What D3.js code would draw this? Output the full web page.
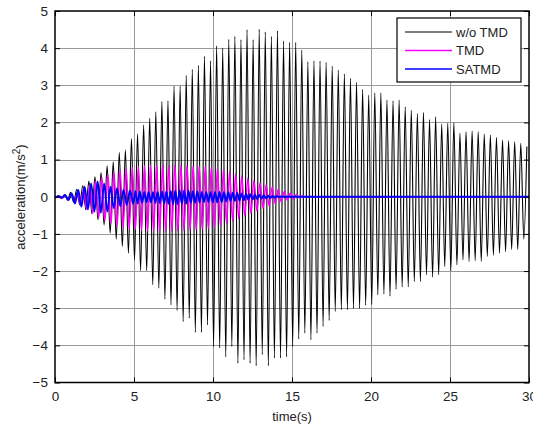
<!DOCTYPE html>
<html>
<head>
<meta charset="utf-8">
<script src="https://cdn.jsdelivr.net/npm/d3@7"></script>
<style>
  body { margin: 0; background: #fff; }
  svg text { font-family: "Liberation Sans", Arial, sans-serif; fill: #222; }
</style>
</head>
<body>
<svg id="chart" width="533" height="425"></svg>
<script>
// ---- data ----
// oscillation period (s) of the uncontrolled response
const period = 0.385;

// w/o TMD: one positive peak and one trough per cycle, cycles 0..77
const noTmdPeaks = [
    0.03, 0.06, 0.12, 0.2, 0.3, 0.42,
    0.54, 0.65, 0.83, 0.94, 1.19, 1.26, 1.57, 1.69, 1.93, 2.11,
    2.29, 2.56, 2.58, 2.98, 2.98, 3.27, 3.43, 3.54, 3.78, 3.66,
    4.06, 4.00, 4.24, 4.32, 4.23, 4.50, 4.23, 4.51, 4.44, 4.32,
    4.47, 4.19, 4.16, 4.16, 3.95, 3.63, 3.66, 3.65, 3.62, 3.52,
    3.41, 3.30, 3.19, 3.08, 2.89, 2.74, 2.80, 2.80, 2.60, 2.58,
    2.60, 2.42, 2.33, 2.24, 2.27, 2.08, 2.15, 1.96, 1.98, 1.99,
    1.71, 1.75, 1.77, 1.75, 1.69, 1.66, 1.60, 1.53, 1.51, 1.48,
    1.44, 1.35
];
const noTmdTroughs = [
    -0.02, -0.05, -0.09, -0.15,
    -0.22, -0.35, -0.46, -0.62, -0.76, -0.98, -1.14, -1.34, -1.52, -1.70,
    -1.99, -1.99, -2.37, -2.46, -2.76, -2.91, -3.06, -3.36, -3.27, -3.65,
    -3.65, -3.45, -4.03, -4.07, -4.31, -4.03, -4.48, -4.39, -4.48, -4.55,
    -4.25, -4.55, -4.34, -4.34, -4.31, -4.03, -3.83, -3.67, -3.85, -3.67,
    -3.49, -3.33, -3.09, -3.04, -3.04, -3.01, -3.01, -2.92, -2.90, -2.64,
    -2.62, -2.68, -2.49, -2.43, -2.43, -2.28, -2.28, -2.10, -2.16, -2.10,
    -1.88, -1.99, -1.83, -1.70, -1.74, -1.72, -1.74, -1.61, -1.57, -1.52,
    -1.48, -1.42, -1.42, -1.14
];

// TMD: cycles 0..41, same period
const tmdPeaks = [
    0.02, 0.04, 0.07, 0.12, 0.2, 0.3, 0.42, 0.52, 0.6, 0.66,
    0.71, 0.76, 0.8, 0.82, 0.84, 0.85, 0.85, 0.86, 0.85, 0.86,
    0.85, 0.85, 0.84, 0.83, 0.82, 0.8, 0.77, 0.73, 0.68, 0.62,
    0.56, 0.5, 0.44, 0.38, 0.32, 0.26, 0.2, 0.15, 0.1, 0.06,
    0.03, 0.01
];
const tmdTroughs = [
    -0.02, -0.04, -0.08, -0.13, -0.22, -0.33, -0.45, -0.56, -0.65, -0.72,
    -0.78, -0.83, -0.87, -0.89, -0.91, -0.92, -0.93, -0.93, -0.93, -0.93,
    -0.92, -0.92, -0.91, -0.9, -0.88, -0.86, -0.83, -0.78, -0.72, -0.66,
    -0.59, -0.52, -0.45, -0.38, -0.31, -0.25, -0.19, -0.14, -0.09, -0.06,
    -0.03, -0.01
];

// SATMD: slower build-up first, then a faster small ripple
const satmdPeriodA = 0.41;
const satmdPeaksA = [0.01, 0.04, 0.09, 0.18, 0.27, 0.36, 0.41, 0.36, 0.27, 0.23, 0.18, 0.17];
const satmdTroughsA = [-0.01, -0.02, -0.09, -0.18, -0.27, -0.34, -0.40, -0.43, -0.40, -0.31, -0.25, -0.22];
const satmdStartB = 4.95;
const satmdPeriodB = 0.28;
const satmdPeaksB = [
    0.15, 0.14, 0.13, 0.13, 0.12, 0.13, 0.14, 0.15, 0.15, 0.16,
    0.17, 0.17, 0.16, 0.15, 0.14, 0.13, 0.12, 0.12, 0.13, 0.13,
    0.12, 0.12, 0.11, 0.1, 0.09, 0.08, 0.07, 0.06, 0.05, 0.04,
    0.03, 0.02, 0.02, 0.01
];
const satmdTroughsB = [
    -0.19, -0.18, -0.16, -0.15, -0.15, -0.16, -0.17, -0.18, -0.19, -0.2,
    -0.2, -0.19, -0.18, -0.17, -0.16, -0.15, -0.14, -0.14, -0.15, -0.15,
    -0.14, -0.13, -0.12, -0.11, -0.1, -0.09, -0.08, -0.07, -0.06, -0.05,
    -0.04, -0.03, -0.02, -0.01
];

const xTicks = [0, 5, 10, 15, 20, 25, 30];
const yTicks = [-5, -4, -3, -2, -1, 0, 1, 2, 3, 4, 5];
const legendNames = ['w/o TMD', 'TMD', 'SATMD'];
const lineColors = ['#000000', '#ff00ff', '#0000ff'];

// turn per-cycle extremes into (t, a) points
function cyclePoints(peaks, troughs, per, t0, troughPhase, peakPhase) {
    const pts = [];
    peaks.forEach((p, k) => {
        pts.push([t0 + (k + troughPhase) * per, troughs[k]]);
        pts.push([t0 + (k + peakPhase) * per, p]);
    });
    return pts;
}

const noTmd = [[0, 0]].concat(cyclePoints(noTmdPeaks, noTmdTroughs, period, 0, 0.07, 0.57));
const tmdPts = [[0, 0]].concat(cyclePoints(tmdPeaks, tmdTroughs, period, 0, 0.2, 0.7));
tmdPts.push([tmdPts[tmdPts.length - 1][0] + period / 2, 0], [30, 0]);
const satA = cyclePoints(satmdPeaksA, satmdTroughsA, satmdPeriodA, 0, 0.08, 0.58);
const satB = cyclePoints(satmdPeaksB, satmdTroughsB, satmdPeriodB, satmdStartB, 0, 0.5);
const satmd = [[0, 0]].concat(satA, satB);
satmd.push([satmd[satmd.length - 1][0] + satmdPeriodB / 2, 0], [30, 0]);

// ---- layout ----
const svg = d3.select('#chart');
const mLeft = 55, mRight = 529, mTop = 11, mBottom = 382.5;

const x = d3.scaleLinear().domain([0, 30]).range([mLeft, mRight]);
const y = d3.scaleLinear().domain([-5, 5]).range([mBottom, mTop]);

svg.append('defs').append('clipPath').attr('id', 'plot-clip')
    .append('rect').attr('x', mLeft).attr('y', mTop)
    .attr('width', mRight - mLeft).attr('height', mBottom - mTop);

// grid
const grid = svg.append('g').attr('stroke', '#9a9a9a').attr('stroke-width', 1);
grid.selectAll('line.gx').data(xTicks.slice(1, -1)).join('line')
    .attr('x1', d => Math.round(x(d)) + 0.5).attr('x2', d => Math.round(x(d)) + 0.5)
    .attr('y1', mTop).attr('y2', mBottom);
grid.selectAll('line.gy').data(yTicks.slice(1, -1)).join('line')
    .attr('y1', d => Math.round(y(d)) + 0.5).attr('y2', d => Math.round(y(d)) + 0.5)
    .attr('x1', mLeft).attr('x2', mRight);

// series
const line = d3.line().x(d => x(d[0])).y(d => y(d[1])).curve(d3.curveMonotoneX);
const plot = svg.append('g').attr('clip-path', 'url(#plot-clip)');
plot.append('path').datum(noTmd).attr('d', line)
    .attr('fill', 'none').attr('stroke', lineColors[0]).attr('stroke-width', 1.1);
plot.append('path').datum(tmdPts).attr('d', line)
    .attr('fill', 'none').attr('stroke', lineColors[1]).attr('stroke-width', 1.5);
plot.append('path').datum(satmd).attr('d', line)
    .attr('fill', 'none').attr('stroke', lineColors[2]).attr('stroke-width', 1.9);

// axes (MATLAB style: inward ticks, box)
svg.append('g').attr('transform', `translate(0,${mBottom})`)
    .call(d3.axisBottom(x).tickValues(xTicks).tickSize(-5).tickPadding(9).tickFormat(d3.format('d')))
    .call(g => g.select('.domain').remove());
svg.append('g').attr('transform', `translate(${mLeft},0)`)
    .call(d3.axisLeft(y).tickValues(yTicks).tickSize(-5).tickPadding(7).tickFormat(d3.format('d')))
    .call(g => g.select('.domain').remove());
svg.append('g').attr('transform', `translate(0,${mTop})`)
    .call(d3.axisTop(x).tickValues(xTicks).tickSize(-5).tickFormat(''))
    .call(g => g.select('.domain').remove());
svg.append('g').attr('transform', `translate(${mRight},0)`)
    .call(d3.axisRight(y).tickValues(yTicks).tickSize(-5).tickFormat(''))
    .call(g => g.select('.domain').remove());
svg.selectAll('.tick text').attr('font-size', 13.5).attr('fill', '#222')
    .style('font-family', '"Liberation Sans", Arial, sans-serif');

svg.append('rect').attr('x', mLeft).attr('y', mTop)
    .attr('width', mRight - mLeft).attr('height', mBottom - mTop)
    .attr('fill', 'none').attr('stroke', '#000').attr('stroke-width', 1.5);

// axis labels
svg.append('text').attr('x', (mLeft + mRight) / 2).attr('y', 421)
    .attr('text-anchor', 'middle').attr('font-size', 13).text('time(s)');
const yl = svg.append('text').attr('transform', 'translate(25,197) rotate(-90)')
    .attr('text-anchor', 'middle').attr('font-size', 13);
yl.append('tspan').text('acceleration(m/s');
yl.append('tspan').attr('dy', -5).attr('font-size', 10).text('2');
yl.append('tspan').attr('dy', 5).text(')');

// legend
const lg = svg.append('g').attr('transform', 'translate(397,18)');
lg.append('rect').attr('width', 124).attr('height', 64)
    .attr('fill', '#fff').attr('stroke', '#000').attr('stroke-width', 1.2);
legendNames.forEach((name, i) => {
    const yy = 14 + i * 18.5;
    lg.append('line').attr('x1', 8).attr('x2', 55).attr('y1', yy).attr('y2', yy)
        .attr('stroke', lineColors[i]).attr('stroke-width', i === 0 ? 1 : 1.5);
    lg.append('text').attr('x', 59).attr('y', yy + 4.5)
        .attr('font-size', 13).text(name);
});
</script>
</body>
</html>
